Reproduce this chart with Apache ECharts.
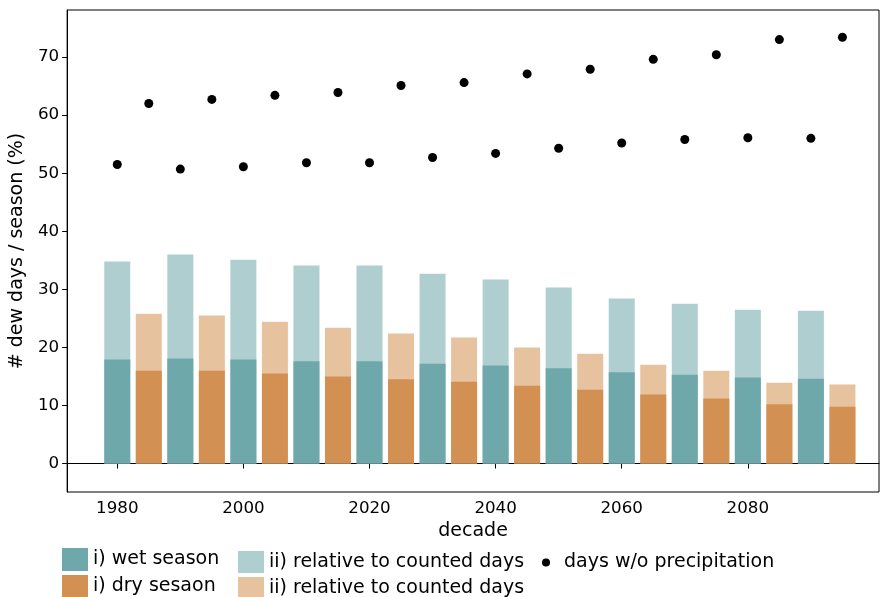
<!DOCTYPE html>
<html>
<head>
<meta charset="utf-8">
<script src="https://cdn.jsdelivr.net/npm/echarts@6/dist/echarts.min.js"></script>
<style>html,body{margin:0;padding:0;background:#fff}#chart{width:880px;height:597px}</style>
</head>
<body>
<div id="chart"></div>
<script>
// Data
const wetYears = [1980, 1990, 2000, 2010, 2020, 2030, 2040, 2050, 2060, 2070, 2080, 2090];
const dryYears = [1985, 1995, 2005, 2015, 2025, 2035, 2045, 2055, 2065, 2075, 2085, 2095];
const wetCounted = [34.8, 36.0, 35.1, 34.1, 34.1, 32.7, 31.7, 30.3, 28.4, 27.5, 26.5, 26.3];
const wetSeason = [17.9, 18.1, 17.9, 17.6, 17.6, 17.2, 16.9, 16.4, 15.7, 15.3, 14.8, 14.6];
const dryCounted = [25.8, 25.5, 24.4, 23.4, 22.4, 21.7, 20.0, 18.9, 17.0, 16.0, 13.9, 13.6];
const drySeason = [16.0, 16.0, 15.5, 15.0, 14.5, 14.1, 13.4, 12.7, 11.9, 11.2, 10.2, 9.8];
const noPrecipYears = [1980, 1985, 1990, 1995, 2000, 2005, 2010, 2015, 2020, 2025, 2030, 2035,
                       2040, 2045, 2050, 2055, 2060, 2065, 2070, 2075, 2080, 2085, 2090, 2095];
const noPrecip = [51.5, 62.0, 50.7, 62.7, 51.1, 63.4, 51.8, 63.9, 51.8, 65.1, 52.7, 65.6,
                  53.4, 67.1, 54.3, 67.9, 55.2, 69.6, 55.8, 70.4, 56.1, 73.0, 56.0, 73.4];
const xTicks = [1980, 2000, 2020, 2040, 2060, 2080];
const yTicks = [0, 10, 20, 30, 40, 50, 60, 70];

const nameWet = 'i) wet season';
const nameDry = 'i) dry sesaon';
const nameWetRel = 'ii) relative to counted days';
const nameDryRel = 'ii) relative to counted days\u200b';
const nameDots = 'days w/o precipitation';

const C = {
  wet: '#6fa8aa', dry: '#d29152', wetLight: '#afcecf', dryLight: '#e6c29f'
};
const FONT = 'DejaVu Sans';

function pairs(xs, ys) { return xs.map((x, i) => [x, ys[i]]); }

const chart = echarts.init(document.getElementById('chart'), null, {renderer: 'canvas'});
const barCommon = { type: 'bar', barWidth: 26, barGap: '-100%', emphasis: {disabled: true} };
const legText = { fontSize: 19, color: '#000', fontFamily: FONT };

chart.setOption({
  animation: false,
  textStyle: { fontFamily: FONT, color: '#000' },
  grid: { left: 64, top: 10, width: 815, height: 482, show: true, borderColor: '#000', borderWidth: 1, containLabel: false },
  xAxis: {
    type: 'value', min: 1972.05, max: 2100.8,
    name: 'decade', nameLocation: 'middle', nameGap: 27,
    nameTextStyle: { fontSize: 19, color: '#000', fontFamily: FONT },
    axisLine: { show: true, lineStyle: { color: '#000' } },
    axisTick: { show: true, length: 5, lineStyle: { color: '#000' }, customValues: xTicks },
    axisLabel: { fontSize: 16.7, color: '#000', margin: 8, fontFamily: FONT, customValues: xTicks,
                 formatter: v => String(v) },
    splitLine: { show: false }
  },
  yAxis: {
    type: 'value', min: -4.9, max: 78.1,
    name: '# dew days / season (%)', nameLocation: 'middle', nameGap: 34,
    nameTextStyle: { fontSize: 19, color: '#000', fontFamily: FONT },
    axisLine: { show: true, lineStyle: { color: '#000' } },
    axisTick: { show: true, length: 5, lineStyle: { color: '#000' }, customValues: yTicks },
    axisLabel: { fontSize: 16.7, color: '#000', margin: 8, fontFamily: FONT, customValues: yTicks,
                 formatter: v => String(v) },
    splitLine: { show: false }
  },
  legend: [
    { orient: 'vertical', left: 62, top: 548, height: 80, itemWidth: 26, itemHeight: 23, itemGap: 4, padding: 0,
      textStyle: legText,
      data: [{name: nameWet, icon: 'rect'}, {name: nameDry, icon: 'rect'}] },
    { orient: 'vertical', left: 238, top: 551, height: 80, itemWidth: 26, itemHeight: 22, itemGap: 4, padding: 0,
      textStyle: legText,
      data: [{name: nameWetRel, icon: 'rect'}, {name: nameDryRel, icon: 'rect'}] },
    { orient: 'vertical', left: 542, top: 553, height: 60, itemWidth: 26, itemHeight: 8, padding: 0,
      textStyle: legText,
      data: [{name: nameDots, icon: 'circle'}] }
  ],
  series: [
    Object.assign({}, barCommon, { name: nameWetRel, data: pairs(wetYears, wetCounted), itemStyle: { color: C.wetLight } }),
    Object.assign({}, barCommon, { name: nameWet, data: pairs(wetYears, wetSeason), itemStyle: { color: C.wet } }),
    Object.assign({}, barCommon, { name: nameDryRel, data: pairs(dryYears, dryCounted), itemStyle: { color: C.dryLight } }),
    Object.assign({}, barCommon, { name: nameDry, data: pairs(dryYears, drySeason), itemStyle: { color: C.dry } }),
    { type: 'scatter', name: nameDots, data: pairs(noPrecipYears, noPrecip), symbol: 'circle', symbolSize: 9,
      itemStyle: { color: '#000', opacity: 1 }, emphasis: {disabled: true} }
  ]
});
</script>
</body>
</html>
